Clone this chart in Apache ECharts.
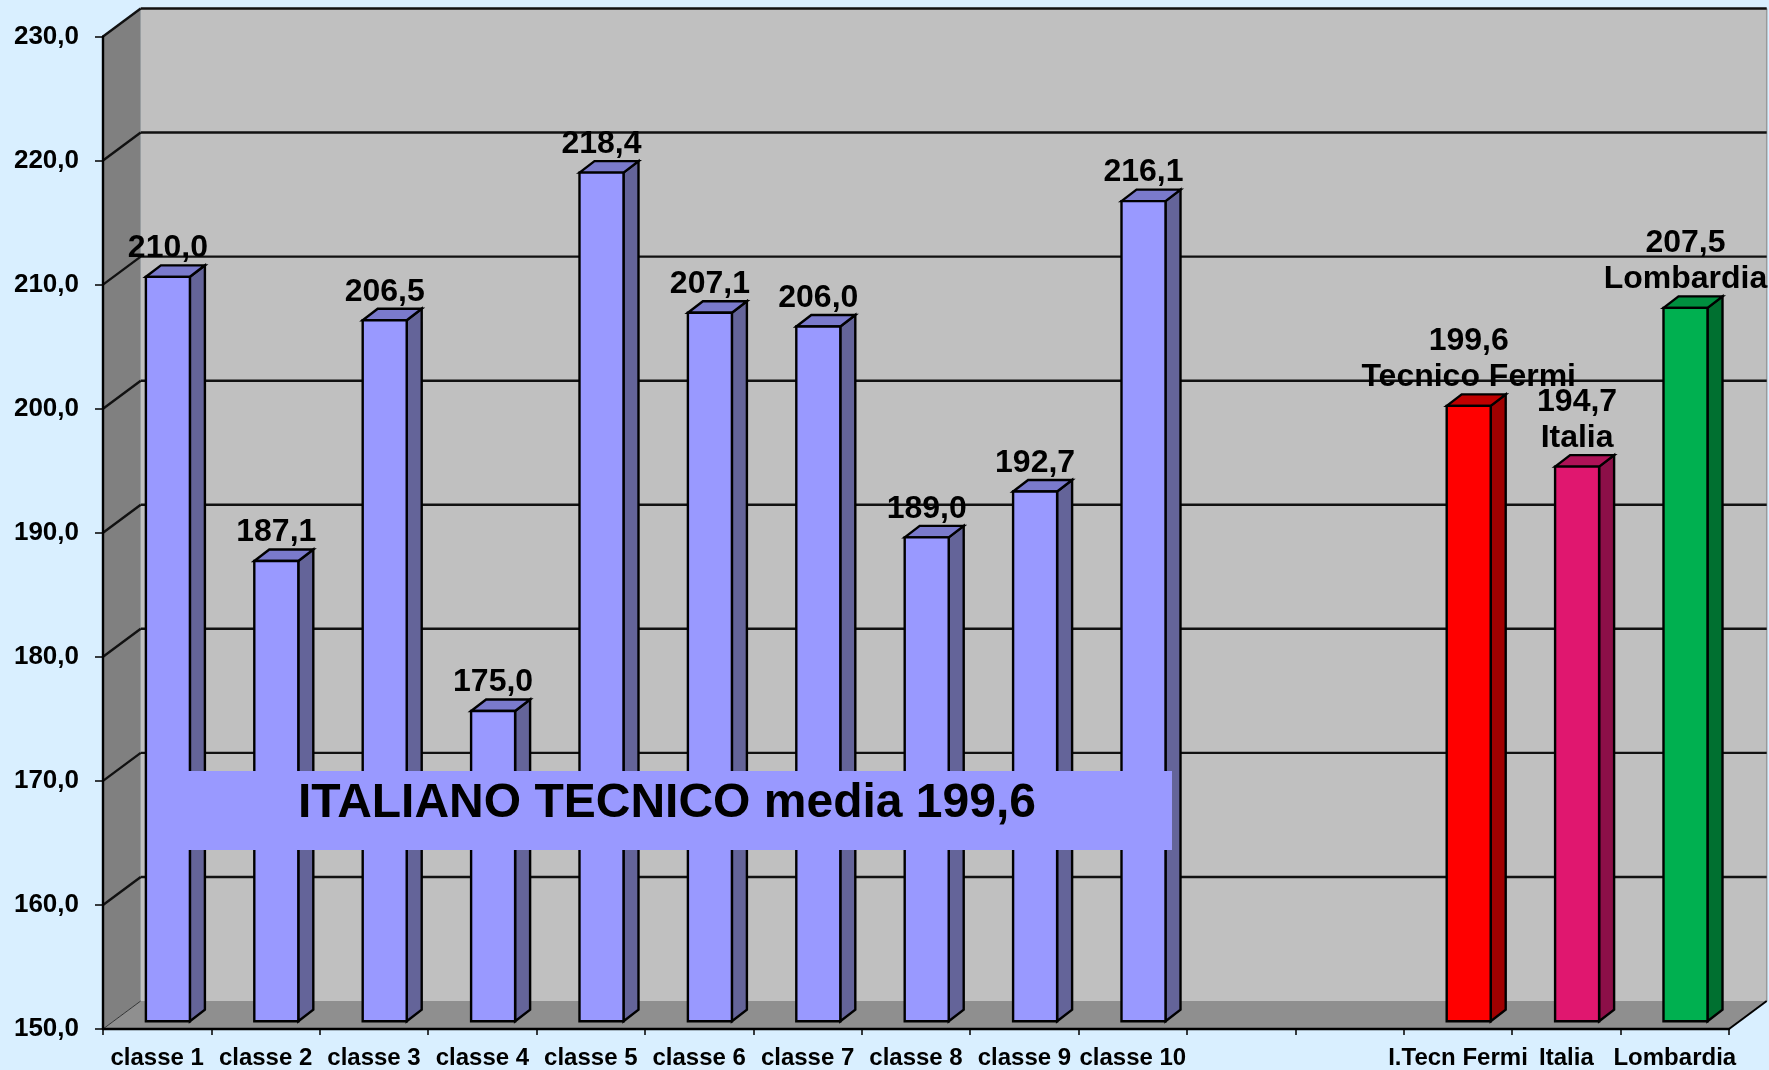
<!DOCTYPE html>
<html>
<head>
<meta charset="utf-8">
<title>Italiano tecnico</title>
<style>
  html, body { margin: 0; padding: 0; background: #d9efff; }
  #main { width: 1769px; height: 1070px; }
</style>
<script src="https://cdn.jsdelivr.net/npm/echarts@6/dist/echarts.min.js"></script>
</head>
<body>
<div id="main"></div>
<script>
// dati
var categories = ['classe 1', 'classe 2', 'classe 3', 'classe 4', 'classe 5', 'classe 6', 'classe 7', 'classe 8', 'classe 9', 'classe 10', '', '', 'I.Tecn Fermi', 'Italia', 'Lombardia'];
var values = [210.0, 187.1, 206.5, 175.0, 218.4, 207.1, 206.0, 189.0, 192.7, 216.1, null, null, 199.6, 194.7, 207.5];
var barNames = ['', '', '', '', '', '', '', '', '', '', '', '', 'Tecnico Fermi', 'Italia', 'Lombardia'];
var yTicks = [150, 160, 170, 180, 190, 200, 210, 220, 230];
var titleText = 'ITALIANO TECNICO media 199,6';

// profondita' finta 3D, in pixel
var DEPTH_X = 37.7, DEPTH_Y = -28;
var BAR_OFF_X = 10.7, BAR_OFF_Y = -7.8; // quanto la barra e' dentro il piano
var BAR_DX = 15, BAR_DY = -11.5;

var purple = { front: '#9999ff', side: '#646499', top: '#7a7acc' };
var palette = {
  12: { front: '#ff0000', side: '#a00000', top: '#c00000' },
  13: { front: '#e0176f', side: '#8c0f48', top: '#ae1257' },
  14: { front: '#00b050', side: '#007030', top: '#008f3f' }
};

function fmt(v) {
  return v.toFixed(1).replace('.', ',');
}

function poly(points, fill, stroke, lw) {
  return {
    type: 'polygon',
    shape: { points: points },
    style: { fill: fill, stroke: stroke || null, lineWidth: lw || 0, lineJoin: 'miter' }
  };
}

function line(x1, y1, x2, y2, color, lw) {
  return {
    type: 'line',
    shape: { x1: x1, y1: y1, x2: x2, y2: y2 },
    style: { stroke: color, lineWidth: lw }
  };
}

// pareti e pavimento
function renderPanels(params, api) {
  var c = params.coordSys;
  var l = c.x, r = c.x + c.width, t = c.y, b = c.y + c.height;
  return {
    type: 'group',
    children: [
      poly([[l + DEPTH_X, t + DEPTH_Y], [r + DEPTH_X, t + DEPTH_Y], [r + DEPTH_X, b + DEPTH_Y], [l + DEPTH_X, b + DEPTH_Y]], '#c0c0c0'),
      poly([[l, t], [l + DEPTH_X, t + DEPTH_Y], [l + DEPTH_X, b + DEPTH_Y], [l, b]], '#808080'),
      poly([[l, b], [l + DEPTH_X, b + DEPTH_Y], [r + DEPTH_X, b + DEPTH_Y], [r, b]], '#8f8f8f'),
      line(r + DEPTH_X, t + DEPTH_Y, r + DEPTH_X, b + DEPTH_Y, '#9a9a9a', 1.5),
      line(r, b, r + DEPTH_X, b + DEPTH_Y, '#000000', 2),
      line(l, b, l + DEPTH_X, b + DEPTH_Y, '#333333', 1)
    ]
  };
}

// griglia: riga sul fondo + diagonale sulla parete sinistra
function renderGrid(params, api) {
  var v = api.value(0);
  var c = params.coordSys;
  if (v === 150) return null;
  var y = api.coord([0, v])[1];
  var l = c.x, r = c.x + c.width;
  return {
    type: 'group',
    children: [
      line(l, y, l + DEPTH_X, y + DEPTH_Y, '#111111', 2.4),
      line(l + DEPTH_X, y + DEPTH_Y, r + DEPTH_X, y + DEPTH_Y, '#111111', 2.4)
    ]
  };
}

function renderBar(params, api) {
  var idx = api.value(0);
  var top = api.coord([idx, api.value(1)]);
  var base = api.coord([idx, 150]);
  var w = api.size([1, 0])[0] * 0.406;
  var x0 = top[0] + BAR_OFF_X - w / 2, x1 = top[0] + BAR_OFF_X + w / 2;
  var yt = top[1] + BAR_OFF_Y, yb = base[1] + BAR_OFF_Y;
  var col = palette[idx] || purple;
  return {
    type: 'group',
    children: [
      poly([[x1, yt], [x1 + BAR_DX, yt + BAR_DY], [x1 + BAR_DX, yb + BAR_DY], [x1, yb]], col.side, '#000000', 2.4),
      poly([[x0, yt], [x0 + BAR_DX, yt + BAR_DY], [x1 + BAR_DX, yt + BAR_DY], [x1, yt]], col.top, '#000000', 2.4),
      poly([[x0, yt], [x1, yt], [x1, yb], [x0, yb]], col.front, '#000000', 2.4)
    ]
  };
}

function renderLabel(params, api) {
  var idx = api.value(0);
  var top = api.coord([idx, api.value(1)]);
  var txt = fmt(api.value(1));
  if (barNames[idx]) txt += '\n' + barNames[idx];
  return {
    type: 'text',
    style: {
      x: top[0] + BAR_OFF_X,
      y: top[1] + BAR_OFF_Y - 10.5,
      text: txt,
      align: 'center',
      verticalAlign: 'bottom',
      fill: '#000000',
      font: 'bold 32px "Liberation Sans", Arial, sans-serif',
      lineHeight: 36
    }
  };
}

var barData = [];
for (var i = 0; i < values.length; i++) {
  if (values[i] !== null) barData.push([i, values[i]]);
}

var chart = echarts.init(document.getElementById('main'), null, { renderer: 'canvas' });
chart.setOption({
  backgroundColor: '#d9efff',
  animation: false,
  textStyle: { fontFamily: '"Liberation Sans", Arial, sans-serif' },
  grid: { left: 103, right: 40, top: 36.5, bottom: 40.5 },
  xAxis: {
    type: 'category',
    data: categories,
    z: 5,
    axisLine: { lineStyle: { color: '#000000', width: 2.4 } },
    axisTick: { show: true, length: 6, interval: 0, alignWithLabel: false, lineStyle: { color: '#000000', width: 1.5 } },
    axisLabel: { interval: 0, margin: 17, color: '#000000', fontWeight: 'bold', fontSize: 24 },
    splitLine: { show: false }
  },
  yAxis: {
    type: 'value',
    min: 150,
    max: 230,
    interval: 10,
    z: 5,
    axisLine: { show: true, lineStyle: { color: '#000000', width: 2.4 } },
    axisTick: { show: true, length: 8, lineStyle: { color: '#000000', width: 1.5 } },
    axisLabel: { margin: 24, padding: [6, 0, 0, 0], color: '#000000', fontWeight: 'bold', fontSize: 26, formatter: function (v) { return fmt(v); } },
    splitLine: { show: false }
  },
  series: [
    { type: 'custom', z: 1, data: [[0]], renderItem: renderPanels, silent: true },
    { type: 'custom', z: 2, data: yTicks.map(function (v) { return [v]; }), renderItem: renderGrid, silent: true },
    { type: 'custom', z: 3, data: barData, encode: { x: 0, y: 1 }, renderItem: renderBar },
    { type: 'custom', z: 4, data: barData, encode: { x: 0, y: 1 }, renderItem: renderLabel, silent: true }
  ],
  graphic: [
    {
      type: 'rect',
      z: 100,
      shape: { x: 150, y: 771, width: 1022, height: 79 },
      style: { fill: '#9999ff' }
    },
    {
      type: 'text',
      z: 101,
      style: {
        x: 667,
        y: 804,
        text: titleText,
        align: 'center',
        verticalAlign: 'middle',
        fill: '#000000',
        font: 'bold 48px "Liberation Sans", Arial, sans-serif'
      }
    }
  ]
});
</script>
</body>
</html>
